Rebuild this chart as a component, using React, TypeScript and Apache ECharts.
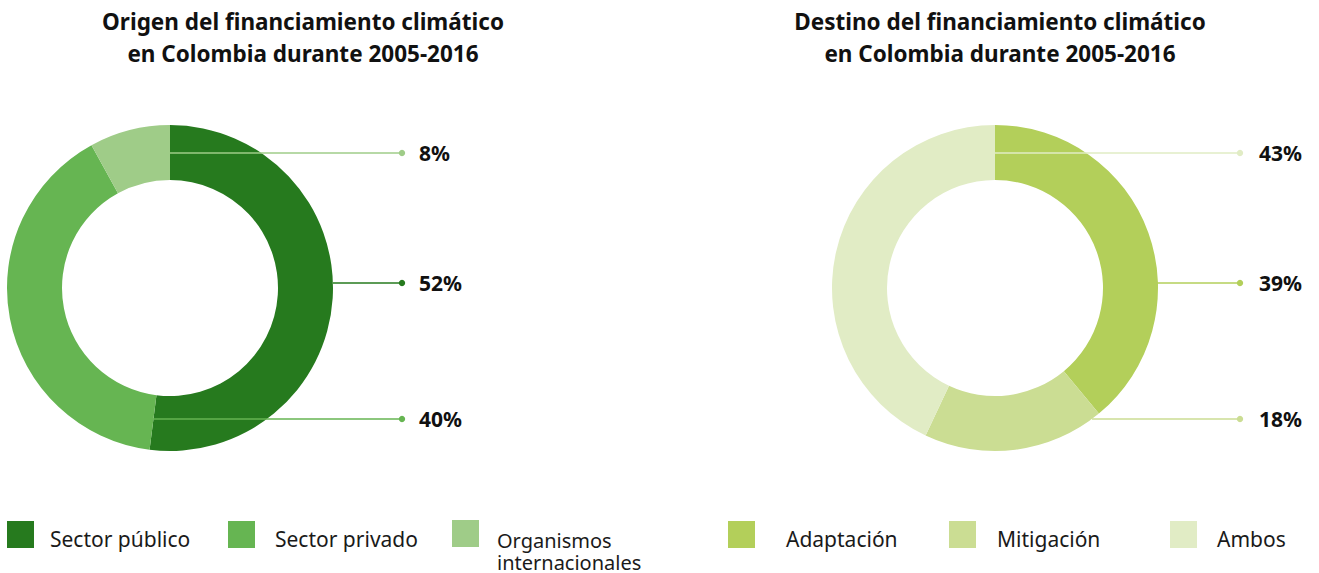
import React, { useEffect, useRef } from "react";
import * as echarts from "echarts";

const leftTitle = "Origen del financiamiento climático\nen Colombia durante 2005-2016";
const rightTitle = "Destino del financiamiento climático\nen Colombia durante 2005-2016";

const leftNames = ["Sector público", "Sector privado", "Organismos internacionales"];
const leftValues = [52, 40, 8];
const leftColors = ["#267a1e", "#66b552", "#9fcc88"];

const rightNames = ["Adaptación", "Mitigación", "Ambos"];
const rightValues = [39, 18, 43];
const rightColors = ["#b3cf5a", "#cbdd93", "#e1ecc5"];

const FONT = "Noto Sans";
const MULTI = "Organismos internacionales";

export default function App() {
  const ref = useRef<HTMLDivElement>(null);
  useEffect(() => {
    if (!ref.current) return;
    const chart = echarts.init(ref.current, null, { renderer: "svg" });

    // annotation layout
    const leftLabelY = [283, 419, 153];
    const leftLineStartX = [333, 153, 170];
    const rightLabelY = [283, 419, 153];
    const rightLineStartX = [1157, 1092, 995];
    const leftDotX = 402;
    const rightDotX = 1240;
    const leftLabelX = 419;
    const rightLabelX = 1259;

    const makePie = (
      names: string[],
      values: number[],
      colors: string[],
      cx: number,
      labelX: number,
      ys: number[]
    ) => ({
      type: "pie",
      center: [cx, 288],
      radius: [108, 163],
      startAngle: 90,
      clockwise: true,
      avoidLabelOverlap: false,
      silent: true,
      data: names.map((n, i) => ({ name: n, value: values[i], itemStyle: { color: colors[i] } })),
      label: {
        show: true,
        position: "outside",
        formatter: "{c}%",
        fontFamily: FONT,
        fontWeight: "bold",
        fontSize: 21,
        color: "#111",
      },
      labelLine: { show: false },
      labelLayout: (p: any) => ({
        x: labelX,
        y: ys[p.dataIndex],
        align: "left",
        verticalAlign: "middle",
      }),
    });

    const legendPads = [11, 15, 13, 26, 16, 15];
    const legendLefts = [7, 228, 452, 728, 949, 1170];
    const allNames = [...leftNames, ...rightNames];
    const legends = allNames.map((n, i) => ({
      data: [n],
      left: legendLefts[i],
      top: 520,
      padding: 0,
      icon: "rect",
      itemWidth: 27,
      itemHeight: 27,
      selectedMode: false,
      formatter: (name: string) => (name === MULTI ? "" : `{s|${name}}`),
      textStyle: {
        fontFamily: FONT,
        fontSize: 21,
        color: "#1a1a1a",
        rich: {
          s: { fontFamily: FONT, fontSize: 21, color: "#1a1a1a", lineHeight: 14, padding: [8, 0, 0, legendPads[i]] },
        },
      },
    }));

    const marks: any[] = [];
    const addAnn = (colors: string[], ys: number[], sx: number[], dotX: number) => {
      colors.forEach((c, i) => {
        marks.push({
          type: "line",
          z: 100,
          silent: true,
          shape: { x1: sx[i], y1: ys[i], x2: dotX, y2: ys[i] },
          style: { stroke: c, lineWidth: 1.5 },
        });
        marks.push({
          type: "circle",
          z: 100,
          silent: true,
          shape: { cx: dotX, cy: ys[i], r: 3.2 },
          style: { fill: c },
        });
      });
    };
    addAnn(leftColors, leftLabelY, leftLineStartX, leftDotX);
    addAnn(rightColors, rightLabelY, rightLineStartX, rightDotX);

    // two-line legend label for "Organismos internacionales"
    marks.push({
      type: "text",
      z: 100,
      silent: true,
      x: 497,
      y: 529,
      style: {
        text: "Organismos\ninternacionales",
        font: `20px "${FONT}"`,
        fill: "#1a1a1a",
        lineHeight: 22,
        verticalAlign: "top",
        align: "left",
      },
    });

    chart.setOption({
      animation: false,
      backgroundColor: "#ffffff",
      title: [
        {
          text: leftTitle,
          left: 298,
          top: 0,
          textAlign: "center",
          textStyle: { fontFamily: FONT, fontWeight: "bold", fontSize: 22.5, lineHeight: 32, color: "#111" },
        },
        {
          text: rightTitle,
          left: 995,
          top: 0,
          textAlign: "center",
          textStyle: { fontFamily: FONT, fontWeight: "bold", fontSize: 22.5, lineHeight: 32, color: "#111" },
        },
      ],
      legend: legends,
      graphic: marks,
      series: [
        makePie(leftNames, leftValues, leftColors, 170, leftLabelX, leftLabelY),
        makePie(rightNames, rightValues, rightColors, 995, rightLabelX, rightLabelY),
      ],
    });
    return () => chart.dispose();
  }, []);
  return <div ref={ref} style={{ position: "fixed", left: 0, top: 0, width: 1319, height: 573 }} />;
}
